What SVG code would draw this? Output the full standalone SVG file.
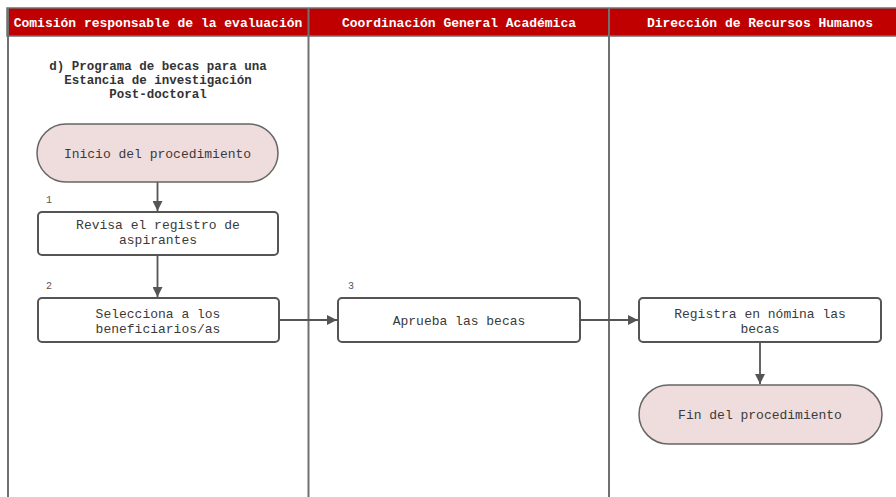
<svg xmlns="http://www.w3.org/2000/svg" width="896" height="497" viewBox="0 0 896 497">
<defs>
<style>
.lane{stroke:#707070;stroke-width:2;fill:none}
.hdr{fill:#c00000;stroke:#707070;stroke-width:1.5}
.htxt{font-family:"Liberation Mono",monospace;font-size:13px;font-weight:bold;fill:#ffffff;text-anchor:middle}
.ttl{font-family:"Liberation Mono",monospace;font-size:12.5px;font-weight:bold;fill:#333333;text-anchor:middle}
.box{fill:#ffffff;stroke:#555555;stroke-width:2}
.pill{fill:#efdcdc;stroke:#666666;stroke-width:1.5}
.t{font-family:"Liberation Mono",monospace;font-size:13px;fill:#3a3a3a;text-anchor:middle}
.num{font-family:"Liberation Mono",monospace;font-size:10px;fill:#555555}
.edge{stroke:#555555;stroke-width:1.8;fill:none;marker-end:url(#arr)}
</style>
<marker id="arr" viewBox="0 0 10 10" refX="10" refY="5" markerWidth="10" markerHeight="10" markerUnits="userSpaceOnUse" orient="auto">
<path d="M0,0 L10,5 L0,10 z" fill="#555555"/>
</marker>
</defs>
<rect width="896" height="497" fill="#ffffff"/>
<g id="lanes">
<rect class="hdr" x="7" y="8" width="895" height="28"/>
<line class="lane" x1="8" y1="8" x2="8" y2="497"/>
<line class="lane" x1="308.5" y1="8" x2="308.5" y2="497"/>
<line class="lane" x1="609" y1="8" x2="609" y2="497"/>
<text class="htxt" x="158" y="27">Comisión responsable de la evaluación</text>
<text class="htxt" x="459" y="27">Coordinación General Académica</text>
<text class="htxt" x="760" y="27">Dirección de Recursos Humanos</text>
</g>
<g id="title">
<text class="ttl" x="158" y="70">d) Programa de becas para una</text>
<text class="ttl" x="158" y="84">Estancia de investigación</text>
<text class="ttl" x="158" y="98">Post-doctoral</text>
</g>
<g id="connectors">
<line class="edge" x1="157.5" y1="182" x2="157.5" y2="211"/>
<line class="edge" x1="157.5" y1="255" x2="157.5" y2="297"/>
<line class="edge" x1="279" y1="320" x2="337" y2="320"/>
<line class="edge" x1="580" y1="320" x2="638" y2="320"/>
<line class="edge" x1="760" y1="342" x2="760" y2="384"/>
</g>
<g id="start">
<rect class="pill" x="37" y="124" width="241" height="58" rx="29" ry="29"/>
<text class="t" x="157.5" y="158">Inicio del procedimiento</text>
</g>
<g id="step1">
<text class="num" x="46" y="203">1</text>
<rect class="box" x="38" y="212" width="240" height="43" rx="4"/>
<text class="t" x="158" y="229">Revisa el registro de</text>
<text class="t" x="158" y="244">aspirantes</text>
</g>
<g id="step2">
<text class="num" x="46" y="289">2</text>
<rect class="box" x="38" y="298" width="241" height="44" rx="4"/>
<text class="t" x="158" y="318">Selecciona a los</text>
<text class="t" x="158" y="333">beneficiarios/as</text>
</g>
<g id="step3">
<text class="num" x="348" y="289">3</text>
<rect class="box" x="338" y="298" width="242" height="44" rx="4"/>
<text class="t" x="459" y="325">Aprueba las becas</text>
</g>
<g id="step4">
<rect class="box" x="639" y="298" width="242" height="44" rx="4"/>
<text class="t" x="760" y="318">Registra en nómina las</text>
<text class="t" x="760" y="333">becas</text>
</g>
<g id="end">
<rect class="pill" x="639" y="385" width="243" height="59" rx="29.5" ry="29.5"/>
<text class="t" x="760" y="419">Fin del procedimiento</text>
</g>
</svg>
